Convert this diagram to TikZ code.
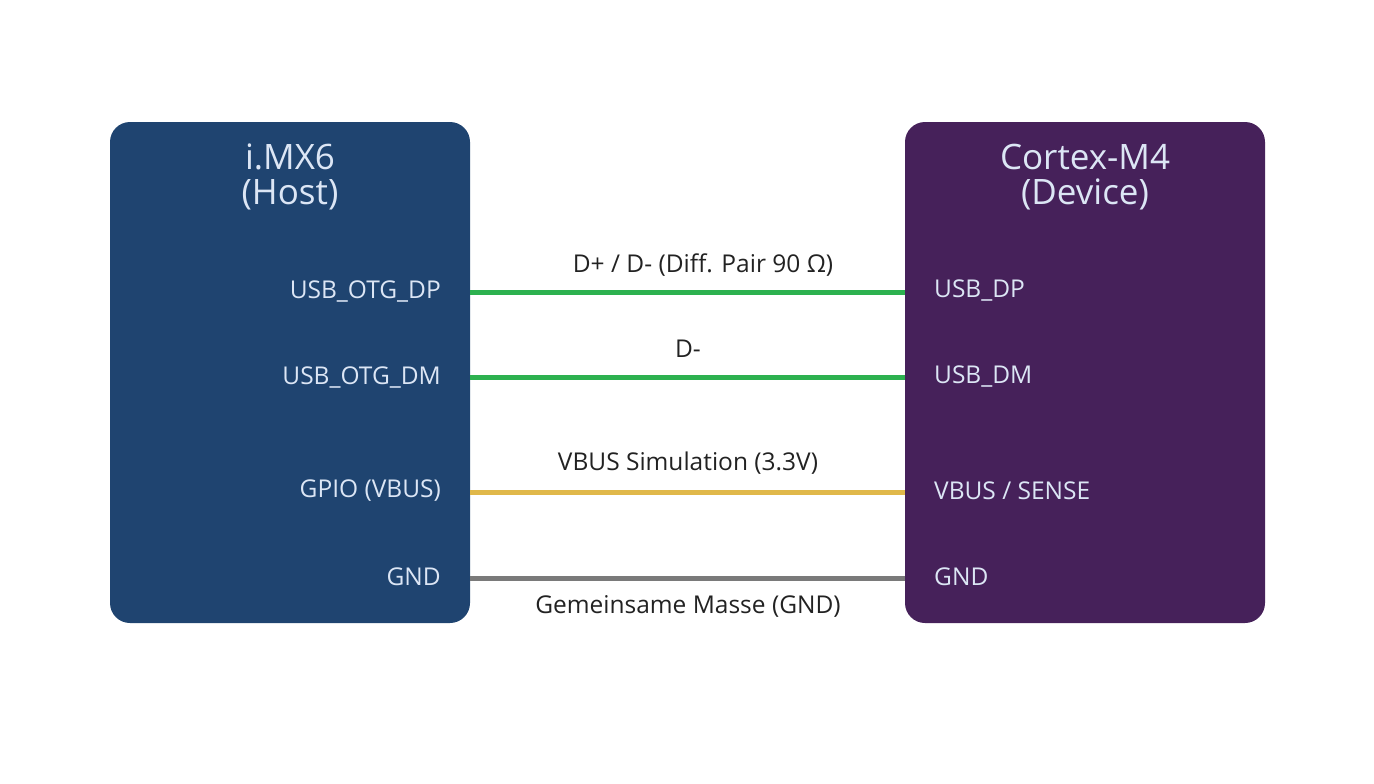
\documentclass[tikz,border=0pt]{standalone}
\usepackage{fontspec}
\setmainfont{Open Sans}
\definecolor{hostc}{HTML}{1F4470}
\definecolor{devc}{HTML}{46215A}
\definecolor{grn}{HTML}{2DB14F}
\definecolor{ylw}{HTML}{E0B84A}
\definecolor{gry}{HTML}{7A7A7A}
\definecolor{txt}{HTML}{222222}
\definecolor{lbl}{HTML}{DCE6F5}
\begin{document}
\begin{tikzpicture}[x=1pt,y=-1pt,
  box/.style={draw=none,rounded corners=20pt,minimum width=360pt,minimum height=501pt,inner sep=0pt},
  title/.style={text=lbl,font=\fontsize{35}{35}\selectfont,align=center},
  pinL/.style={anchor=east,inner sep=0pt,text=lbl,font=\fontsize{24.5}{28}\selectfont},
  pinR/.style={anchor=west,inner sep=0pt,text=lbl,font=\fontsize{24.5}{28}\selectfont},
  wire/.style={line width=5pt},
  wl/.style={text=txt,font=\fontsize{24.5}{28}\selectfont}]
\useasboundingbox (0,0) rectangle (1374,784);
\node[box,fill=hostc] (host) at (290,372.5) {};
\node[box,fill=devc] (dev) at (1085,372.5) {};
\node[title] (ht) at (290,177) {i.MX6\\(Host)};
\node[title] (dt) at (1085,177) {Cortex-M4\\(Device)};
\node[pinL] (l1) at (441,291) {USB\_OTG\_DP};
\node[pinL] (l2) at (441,377) {USB\_OTG\_DM};
\node[pinL] (l3) at (441,491) {GPIO (VBUS)};
\node[pinL] (l4) at (441,577) {GND};
\node[pinR] (r1) at (934,291) {USB\_DP};
\node[pinR] (r2) at (934,377) {USB\_DM};
\node[pinR] (r3) at (934,491) {VBUS / SENSE};
\node[pinR] (r4) at (934,577) {GND};
\coordinate (a1) at (470,292); \coordinate (b1) at (905,292);
\coordinate (a2) at (470,377); \coordinate (b2) at (905,377);
\coordinate (a3) at (470,492); \coordinate (b3) at (905,492);
\coordinate (a4) at (470,578); \coordinate (b4) at (905,578);
\draw[wire,grn] (a1) -- (b1);
\draw[wire,grn] (a2) -- (b2);
\draw[wire,ylw] (a3) -- (b3);
\draw[wire,gry] (a4) -- (b4);
\node[wl] (w1) at (703,265) {D+ / D- (Diff. Pair 90 Ω)};
\node[wl] (w2) at (688,349) {D-};
\node[wl] (w3) at (688,463) {VBUS Simulation (3.3V)};
\node[wl] (w4) at (688,606) {Gemeinsame Masse (GND)};
\end{tikzpicture}
\end{document}
